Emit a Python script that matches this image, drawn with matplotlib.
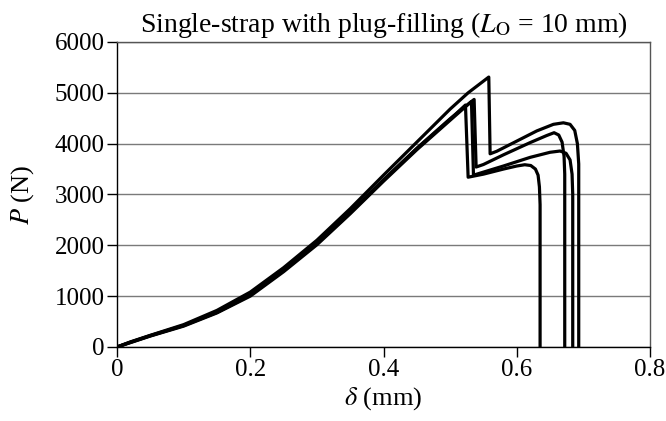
import matplotlib
matplotlib.use("Agg")
import matplotlib.pyplot as plt

plt.rcParams['font.family'] = ['Liberation Serif', 'DejaVu Serif']
plt.rcParams['mathtext.fontset'] = 'stix'

# load-displacement curves, four specimens (delta in mm, P in N)
d1 = [0, 0.02, 0.05, 0.10, 0.15, 0.20, 0.25, 0.30, 0.35, 0.40, 0.45, 0.50, 0.523,
      0.527, 0.55, 0.58, 0.60, 0.612, 0.621, 0.628, 0.632, 0.634, 0.635, 0.635]
p1 = [0, 90, 220, 420, 680, 1020, 1500, 2030, 2640, 3280, 3900, 4480, 4760,
      3340, 3400, 3500, 3560, 3585, 3570, 3500, 3380, 3150, 2800, 0]

d2 = [0, 0.02, 0.05, 0.10, 0.15, 0.20, 0.25, 0.30, 0.35, 0.40, 0.45, 0.50, 0.532,
      0.535, 0.545, 0.58, 0.62, 0.65, 0.665, 0.674, 0.680, 0.683, 0.684, 0.684]
p2 = [0, 85, 215, 410, 670, 1000, 1480, 2010, 2620, 3260, 3880, 4460, 4830,
      3380, 3420, 3560, 3730, 3830, 3855, 3810, 3680, 3400, 3000, 0]

d3 = [0, 0.02, 0.05, 0.10, 0.15, 0.20, 0.25, 0.30, 0.35, 0.40, 0.45, 0.50, 0.536,
      0.539, 0.55, 0.58, 0.62, 0.645, 0.656, 0.663, 0.668, 0.671, 0.672, 0.672]
p3 = [0, 95, 225, 425, 690, 1030, 1510, 2040, 2650, 3290, 3910, 4490, 4870,
      3540, 3590, 3780, 4020, 4160, 4215, 4170, 4030, 3750, 3400, 0]

d4 = [0, 0.02, 0.05, 0.10, 0.15, 0.20, 0.25, 0.30, 0.35, 0.40, 0.45, 0.50, 0.527, 0.558,
      0.560, 0.57, 0.60, 0.63, 0.655, 0.670, 0.680, 0.687, 0.691, 0.693, 0.693]
p4 = [0, 100, 230, 440, 720, 1080, 1560, 2100, 2720, 3380, 4030, 4680, 5000, 5310,
      3800, 3850, 4050, 4250, 4380, 4410, 4380, 4260, 4000, 3600, 0]

curves = [(d1, p1), (d2, p2), (d3, p3), (d4, p4)]

x_ticks = [0, 0.2, 0.4, 0.6, 0.8]
x_labels = ['0', '0.2', '0.4', '0.6', '0.8']
y_ticks = [0, 1000, 2000, 3000, 4000, 5000, 6000]

fig = plt.figure(figsize=(6.66, 4.21), dpi=100)
ax = fig.add_axes([0.1757, 0.1758, 0.8003, 0.7245])

for d, p in curves:
    ax.plot(d, p, color='black', lw=2.3, solid_joinstyle='round', zorder=3)

ax.set_xlim(0, 0.8)
ax.set_ylim(0, 6000)
ax.set_xticks(x_ticks)
ax.set_xticklabels(x_labels)
ax.set_yticks(y_ticks)
ax.yaxis.grid(True, color='#7a7a7a', lw=1.0, zorder=1)
ax.set_axisbelow(True)

for side in ['top', 'right']:
    ax.spines[side].set_color('#555555')
for side in ax.spines:
    ax.spines[side].set_linewidth(1.0)

ax.tick_params(axis='both', direction='out', length=7, width=1, labelsize=18, pad=2)

ax.set_xlabel(r'$\delta$ (mm)', fontsize=19, labelpad=3)
ax.set_ylabel(r'$P$ (N)', fontsize=19, labelpad=13)
ax.set_title(r'Single-strap with plug-filling ($L_{\mathrm{O}}$ = 10 mm)', fontsize=20, pad=7)

fig.savefig('out.png', dpi=100)
